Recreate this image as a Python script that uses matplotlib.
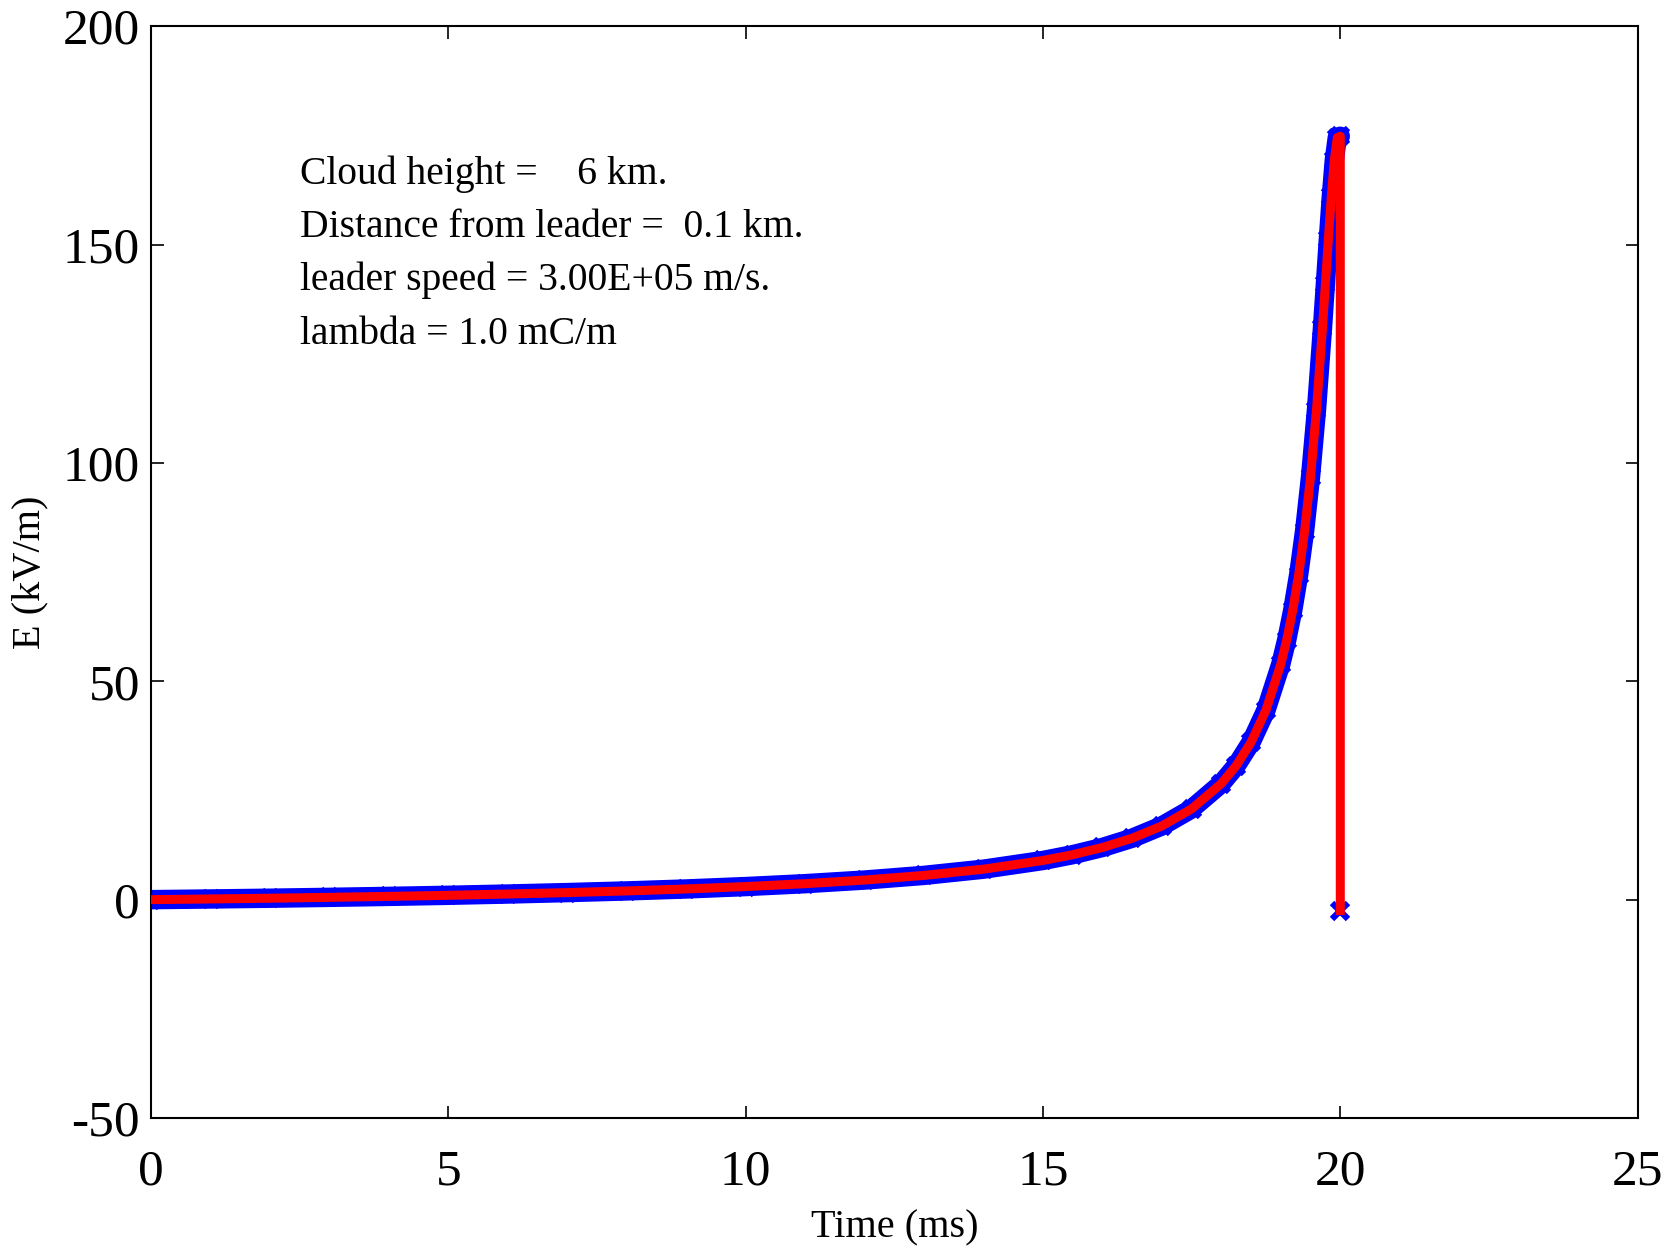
import matplotlib
matplotlib.use("Agg")
import matplotlib.pyplot as plt

plt.rcParams['font.family'] = ['Liberation Serif', 'DejaVu Serif']
plt.rcParams['axes.unicode_minus'] = False

# Time (ms) and electric field E (kV/m)
time_ms = [0.0, 1.0, 2.0, 3.0, 4.0, 5.0, 6.0, 7.0, 8.0, 9.0, 10.0, 11.0, 12.0,
           13.0, 14.0, 15.0, 15.5, 16.0, 16.5, 17.0, 17.5, 18.0, 18.25, 18.5,
           18.75, 19.0, 19.1, 19.2, 19.3, 19.4, 19.5, 19.6, 19.7, 19.75, 19.8,
           19.85, 19.9, 19.95, 20.0, 20.0]
field_kvm = [0.0, 0.16, 0.33, 0.53, 0.75, 1.0, 1.29, 1.62, 2.0, 2.45, 3.0, 3.66,
             4.49, 5.56, 6.98, 8.97, 10.3, 11.95, 14.07, 16.88, 20.79, 26.59,
             30.68, 36.05, 43.38, 53.92, 59.52, 66.23, 74.39, 84.42, 96.85,
             112.2, 130.8, 141.0, 151.3, 161.1, 169.4, 174.5, 174.8, -2.5]

info_lines = ["Cloud height =    6 km.",
              "Distance from leader =  0.1 km.",
              "leader speed = 3.00E+05 m/s.",
              "lambda = 1.0 mC/m"]
info_y = [166.2, 154.0, 141.8, 129.5]

x_ticks = [0, 5, 10, 15, 20, 25]
y_ticks = [-50, 0, 50, 100, 150, 200]

fig = plt.figure(figsize=(16.71, 12.46), dpi=100)
ax = fig.add_axes([0.0904, 0.1027, 0.8896, 0.8763])

# blue marker band (rising part drawn as a thick band plus x markers)
ax.plot(time_ms[:-1], field_kvm[:-1], color='#0000ff', lw=14, solid_capstyle='round', zorder=2)
ax.plot(time_ms, field_kvm, linestyle='none', marker='x', color='#0000ff',
        ms=11, mew=4.5, zorder=2)
# red line
ax.plot(time_ms, field_kvm, color='#ff0000', lw=6.5, zorder=3)

for txt, yy in zip(info_lines, info_y):
    ax.text(2.5, yy, txt, fontsize=28.5, va='center', ha='left')

ax.set_xlim(0, 25)
ax.set_ylim(-50, 200)
ax.set_xticks(x_ticks)
ax.set_yticks(y_ticks)
ax.tick_params(direction='in', length=9, width=1.2, top=True, right=True,
               labelsize=37)
ax.tick_params(axis='x', pad=22)
ax.tick_params(axis='y', pad=8)
for s in ax.spines.values():
    s.set_linewidth(1.5)

ax.set_xlabel("Time (ms)", fontsize=29, labelpad=10)
ax.set_ylabel("E (kV/m)", fontsize=29, labelpad=10)

fig.savefig("out.png", dpi=100)
